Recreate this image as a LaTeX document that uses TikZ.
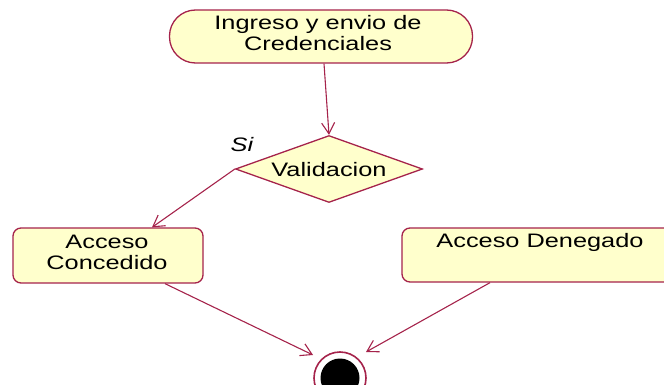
\documentclass[tikz,border=0pt]{standalone}
\usepackage{fontspec}
\setmainfont{Liberation Sans}[FakeStretch=1.3]
\usetikzlibrary{arrows.meta,shapes.geometric}
\definecolor{umlline}{RGB}{165,35,75}
\definecolor{umlfill}{RGB}{255,255,204}
\tikzset{
  stateline/.style={draw=umlline,line width=1.3pt,fill=umlfill},
  arr/.style={draw=umlline,line width=1.1pt,-{Straight Barb[length=11pt,width=13pt]}},
  txt/.style={font=\fontsize{19.5}{20.5}\selectfont,align=center,text=black}
}
\begin{document}
\begin{tikzpicture}[x=1pt,y=-1pt]
\clip (0,0) rectangle (664,385);
\useasboundingbox (0,0) rectangle (664,385);
\node[stateline,rounded corners=26pt,minimum width=303pt,minimum height=53pt,inner sep=0pt] (ing) at (321,36.5) {};
\node[txt] (ingt) at (318,33) {Ingreso y envio de\\Credenciales};
\node[stateline,diamond,minimum width=187pt,minimum height=67pt,inner sep=0pt,aspect=2.8] (val) at (329,169) {};
\node[txt] (valt) at (329,170) {Validacion};
\node[txt,font=\fontsize{19.5}{20.5}\selectfont\itshape] (si) at (242,145) {Si};
\node[stateline,rounded corners=8pt,minimum width=190pt,minimum height=55pt,inner sep=0pt] (acc) at (108,255.5) {};
\node[txt] (acct) at (107,252.5) {Acceso\\Concedido};
\node[stateline,rounded corners=8pt,minimum width=280pt,minimum height=54pt,inner sep=0pt] (den) at (542,255) {};
\node[txt] (dent) at (540,242) {Acceso Denegado};
\node[circle,draw=umlline,line width=1.6pt,fill=white,minimum size=52pt,inner sep=0pt] (fin) at (340,378) {};
\node[circle,fill=black,minimum size=39pt,inner sep=0pt] (finin) at (fin.center) {};
\draw[arr] ([xshift=3pt]ing.south) -- (val.north);
\draw[arr] (val.west) -- ([xshift=44pt]acc.north);
\draw[arr] ([xshift=57pt]acc.south) -- ([shift={(-27pt,23pt)}]fin.center);
\draw[arr] ([xshift=-52pt]den.south) -- ([shift={(26pt,26pt)}]fin.center);
\end{tikzpicture}
\end{document}
